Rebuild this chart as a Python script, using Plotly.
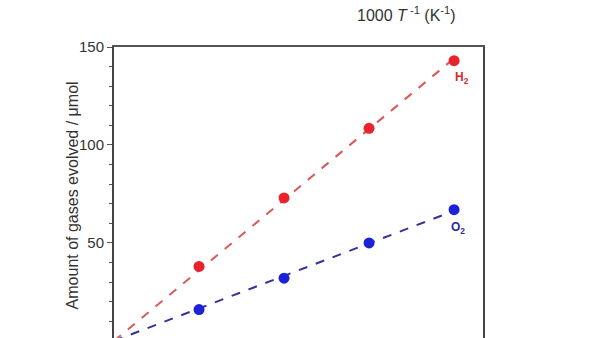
import numpy as np
import plotly.graph_objects as go

time_h = [1, 2, 3, 4]
h2_umol = [38, 73, 108.5, 143]
o2_umol = [16, 32, 50, 67]
y_ticks = [0, 50, 100, 150]

# fitted lines through origin
def fit(x, y):
    x = np.array(x, float); y = np.array(y, float)
    k = (x * y).sum() / (x * x).sum()
    xs = np.array([0.0, x.max()])
    return xs, k * xs

fig = go.Figure()
hx, hy = fit(time_h, h2_umol)
ox, oy = fit(time_h, o2_umol)
fig.add_trace(go.Scatter(x=hx, y=hy, mode="lines", line=dict(color="#d85a5a", width=2, dash="dash"), hoverinfo="skip"))
fig.add_trace(go.Scatter(x=ox, y=oy, mode="lines", line=dict(color="#33339a", width=2, dash="dash"), hoverinfo="skip"))
fig.add_trace(go.Scatter(x=time_h, y=h2_umol, mode="markers", marker=dict(color="#e8232b", size=11)))
fig.add_trace(go.Scatter(x=time_h, y=o2_umol, mode="markers", marker=dict(color="#1c22d8", size=11)))

fig.update_layout(
    width=600, height=338, showlegend=False,
    margin=dict(l=114, r=117, t=47, b=0),
    plot_bgcolor="white", paper_bgcolor="white",
    font=dict(family="Liberation Sans, Arial", color="#333"),
)
fig.update_xaxes(range=[0, 4.34], showgrid=False, zeroline=False, showticklabels=False,
                 showline=True, linecolor="#555", linewidth=1.5, mirror=True, ticks="")
fig.update_yaxes(range=[1.5, 150], showgrid=False, zeroline=False, tickvals=y_ticks,
                 ticks="outside", ticklen=5, tickwidth=1, tickcolor="#555",
                 minor=dict(dtick=10, ticks="outside", ticklen=3, tickcolor="#555"),
                 tickfont=dict(size=15, color="#333"),
                 showline=True, linecolor="#444", linewidth=2, mirror=True)

fig.add_annotation(text="Amount of gases evolved / \u03bcmol", xref="paper", yref="paper",
                   x=(72 - 114) / 369, y=0.49, textangle=-90, showarrow=False,
                   font=dict(size=16, color="#333"), xanchor="center", yanchor="middle")
fig.add_annotation(text="1000 <i>T</i><sup> -1</sup> (K<sup>-1</sup>)", xref="paper", yref="paper",
                   x=(406 - 114) / 369, y=1 + (47 - 14) / 291, showarrow=False,
                   font=dict(size=16, color="#333"), xanchor="center", yanchor="middle")
fig.add_annotation(text="<b>H<sub>2</sub></b>", x=time_h[-1], y=h2_umol[-1], xshift=8, yshift=-17,
                   showarrow=False, font=dict(size=12, color="#d42a2a"))
fig.add_annotation(text="<b>O<sub>2</sub></b>", x=time_h[-1], y=o2_umol[-1], xshift=4, yshift=-18,
                   showarrow=False, font=dict(size=12, color="#2a2a9a"))

fig.write_html("out.html")
